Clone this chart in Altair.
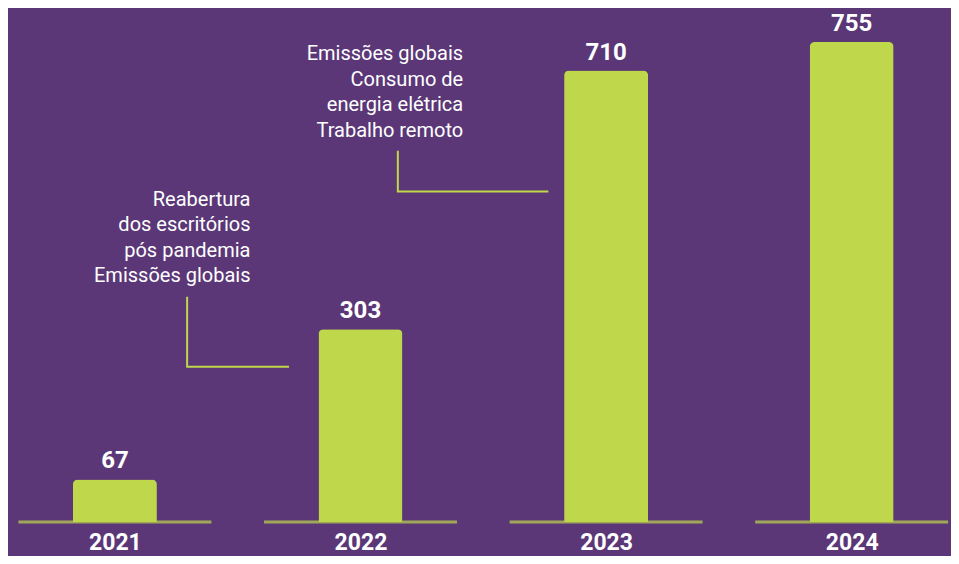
import altair as alt
import pandas as pd

# ---- data ----
years = [2021, 2022, 2023, 2024]
values = [67, 303, 710, 755]

# annotations (text anchored in data units: year position, value)
ann_text = [
    "Reabertura\ndos escritórios\npós pandemia\nEmissões globais",
    "Emissões globais\nConsumo de\nenergia elétrica\nTrabalho remoto",
]
ann_x = [2021.552, 2022.418]
ann_y = [497.7, 726.2]

# connector elbows: (group, order, x, y)
conn_grp = [1, 1, 1, 2, 2, 2]
conn_ord = [0, 1, 2, 0, 1, 2]
conn_x = [2021.294, 2021.294, 2021.709, 2022.152, 2022.152, 2022.765]
conn_y = [354.4, 244.3, 244.3, 584.0, 520.0, 520.0]

PURPLE = "#5b3777"
GREEN = "#bed74b"
FONT = "Roboto"

df = pd.DataFrame({"year": years, "value": values, "zero": [0] * len(years)})
ann = pd.DataFrame({"year": ann_x, "value": ann_y, "text": ann_text})
conn = pd.DataFrame({"grp": conn_grp, "ord": conn_ord, "year": conn_x, "value": conn_y})

xscale = alt.Scale(domain=[2020.585, 2024.384], nice=False, zero=False)
yscale = alt.Scale(domain=[-1.573, 808.5], nice=False, zero=False)

xaxis = alt.Axis(
    values=years, format="d", title=None, domain=False, ticks=False, tickSize=0,
    grid=False, labelColor="white", labelFont=FONT, labelFontWeight="bold",
    labelFontSize=23, labelPadding=8, labelFlush=False,
)

X = alt.X("year:Q", scale=xscale, axis=xaxis)
Y = alt.Y("value:Q", scale=yscale, axis=None)

base = alt.Chart(df)

baseline = base.mark_tick(orient="horizontal", size=193, thickness=3, color=GREEN).encode(
    x=X, y=alt.Y("zero:Q", scale=yscale, axis=None)
)

bars = base.mark_bar(
    size=84, color=GREEN, orient="vertical",
    cornerRadiusTopLeft=5, cornerRadiusTopRight=5,
).encode(x=X, y=Y)

labels = base.mark_text(
    dy=-11, baseline="alphabetic", align="center", fontSize=24,
    fontWeight="bold", font=FONT, color="white",
).encode(x=X, y=Y, text="value:Q")

annot = alt.Chart(ann).mark_text(
    align="right", baseline="alphabetic", lineBreak="\n", lineHeight=25.5,
    fontSize=20, font=FONT, color="white",
).encode(x=X, y=Y, text="text:N")

connectors = alt.Chart(conn).mark_line(strokeWidth=2, color=GREEN).encode(
    x=X, y=Y, detail="grp:N", order="ord:Q",
)

chart = alt.layer(baseline, bars, labels, annot, connectors).properties(
    width=943, height=515,
    autosize=alt.AutoSizeParams(type="none"),
    padding={"left": 0, "top": 0, "right": 0, "bottom": 33},
    background=PURPLE,
).configure_view(stroke=None)

chart.save("out.html", embed_options={"renderer": "svg", "actions": False})
